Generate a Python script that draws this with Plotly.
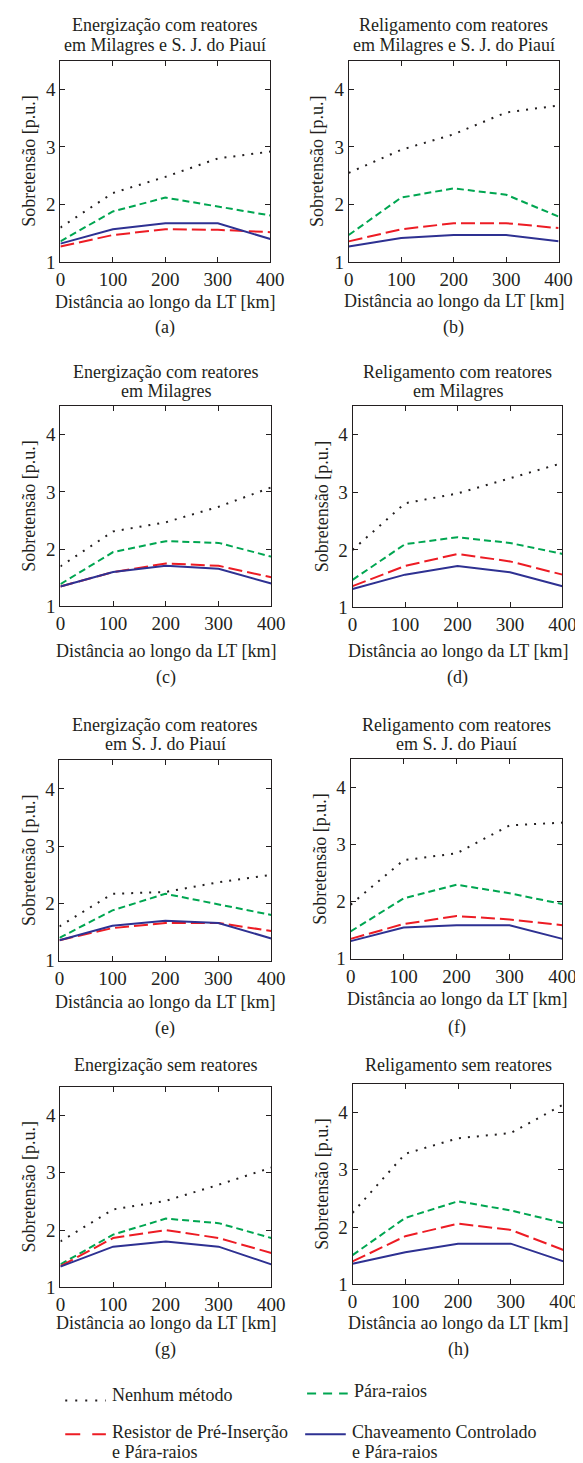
import plotly.graph_objects as go

W, H = 583, 1463

# ---------------- data ----------------
distance_km = [0, 100, 200, 300, 400]

series_names = ["Nenhum método", "Pára-raios",
                "Resistor de Pré-Inserção e Pára-raios",
                "Chaveamento Controlado e Pára-raios"]

panel_titles = [
    ["Energização com reatores", "em Milagres e S. J. do Piauí"],
    ["Religamento com reatores", "em Milagres e S. J. do Piauí"],
    ["Energização com reatores", "em Milagres"],
    ["Religamento com reatores", "em Milagres"],
    ["Energização com reatores", "em S. J. do Piauí"],
    ["Religamento com reatores", "em S. J. do Piauí"],
    ["Energização sem reatores"],
    ["Religamento sem reatores"],
]
panel_labels = ["(a)", "(b)", "(c)", "(d)", "(e)", "(f)", "(g)", "(h)"]

# values per panel: [nenhum, para_raios, resistor, chaveamento]
nenhum = [
    [1.60, 2.20, 2.48, 2.80, 2.92],
    [2.55, 2.95, 3.22, 3.60, 3.72],
    [1.70, 2.31, 2.47, 2.74, 3.08],
    [2.00, 2.81, 2.98, 3.24, 3.51],
    [1.60, 2.17, 2.20, 2.37, 2.50],
    [1.95, 2.73, 2.85, 3.34, 3.39],
    [1.80, 2.36, 2.51, 2.79, 3.09],
    [2.25, 3.28, 3.55, 3.64, 4.14],
]
para_raios = [
    [1.36, 1.88, 2.12, 1.96, 1.81],
    [1.47, 2.12, 2.28, 2.17, 1.79],
    [1.39, 1.95, 2.14, 2.11, 1.87],
    [1.48, 2.10, 2.22, 2.12, 1.93],
    [1.40, 1.88, 2.17, 1.98, 1.80],
    [1.48, 2.06, 2.30, 2.15, 1.96],
    [1.40, 1.92, 2.20, 2.12, 1.86],
    [1.51, 2.16, 2.45, 2.29, 2.07],
]
resistor = [
    [1.27, 1.47, 1.57, 1.56, 1.52],
    [1.36, 1.57, 1.675, 1.675, 1.59],
    [1.35, 1.60, 1.75, 1.71, 1.51],
    [1.37, 1.72, 1.93, 1.80, 1.57],
    [1.36, 1.57, 1.66, 1.66, 1.52],
    [1.35, 1.61, 1.75, 1.69, 1.59],
    [1.37, 1.86, 2.00, 1.86, 1.60],
    [1.40, 1.84, 2.06, 1.95, 1.60],
]
chaveamento = [
    [1.32, 1.57, 1.675, 1.675, 1.40],
    [1.27, 1.42, 1.47, 1.47, 1.36],
    [1.35, 1.60, 1.71, 1.66, 1.40],
    [1.32, 1.57, 1.72, 1.61, 1.37],
    [1.36, 1.61, 1.70, 1.66, 1.39],
    [1.31, 1.55, 1.59, 1.59, 1.35],
    [1.36, 1.71, 1.80, 1.71, 1.40],
    [1.36, 1.56, 1.71, 1.71, 1.40],
]
x_ticks = [0, 100, 200, 300, 400]
y_ticks = [1, 2, 3, 4]
x_title = "Distância ao longo da LT [km]"
y_title = "Sobretensão [p.u.]"

# ---------------- style ----------------
FONT = "Liberation Serif"
TXT = "#231F20"
FS = 18
TFS = 19
styles = [
    dict(color="#231F20", width=2, dash="2px,7px"),
    dict(color="#00A651", width=2, dash="7px,4px"),
    dict(color="#ED1C24", width=2, dash="14px,5px"),
    dict(color="#2E3192", width=2, dash="solid"),
]

# pixel boxes of panels: (left, right, top, bottom)
boxes = [
    (49, 266, 53, 256), (347, 564, 53, 256),
    (49, 267, 401, 603), (351, 568, 401, 604),
    (48, 267, 758, 960), (349, 568, 757, 958),
    (49, 267, 1087, 1289), (351, 569, 1084, 1286),
]
title_y = [(17, 37), (17, 37), (367, 386), (367, 386),
           (722, 742), (722, 742), (1065,), (1065,)]
xtitle_y = [296, 295, 648, 648, 1002, 999, 1325, 1325]
label_y = [322, 322, 675, 675, 1028, 1027, 1352, 1352]


def px(x):
    return x / W


def py(y):
    return 1 - y / H


fig = go.Figure()
annotations = []
shapes = []
layout = {}

for i in range(8):
    l, r, t, b = boxes[i]
    xa = "xaxis" if i == 0 else f"xaxis{i+1}"
    ya = "yaxis" if i == 0 else f"yaxis{i+1}"
    xr = "x" if i == 0 else f"x{i+1}"
    yr = "y" if i == 0 else f"y{i+1}"
    common = dict(showline=True, linecolor=TXT, linewidth=1, mirror="ticks",
                  ticks="inside", ticklen=5, tickcolor=TXT, tickwidth=1,
                  showgrid=False, zeroline=False,
                  tickfont=dict(family=FONT, size=TFS, color=TXT))
    layout[xa] = dict(domain=[px(l), px(r)], range=[0, 400], anchor=yr,
                      tickvals=x_ticks, **common)
    layout[ya] = dict(domain=[py(b), py(t)], range=[1, 4.5], anchor=xr,
                      tickvals=y_ticks, **common)
    vals = [nenhum[i], para_raios[i], resistor[i], chaveamento[i]]
    for k in range(4):
        fig.add_trace(go.Scatter(x=distance_km, y=vals[k], mode="lines",
                                 line=styles[k], name=series_names[k],
                                 showlegend=False, xaxis=xr, yaxis=yr,
                                 cliponaxis=True))
    cx = (l + r) / 2
    for line_txt, yy in zip(panel_titles[i], title_y[i]):
        annotations.append(dict(text=line_txt, x=px(cx), y=py(yy), xref="paper",
                                yref="paper", showarrow=False, xanchor="center",
                                yanchor="middle",
                                font=dict(family=FONT, size=FS, color=TXT)))
    annotations.append(dict(text=x_title, x=px(cx), y=py(xtitle_y[i]), xref="paper",
                            yref="paper", showarrow=False, xanchor="center",
                            yanchor="middle",
                            font=dict(family=FONT, size=FS, color=TXT)))
    annotations.append(dict(text=panel_labels[i], x=px(cx), y=py(label_y[i]),
                            xref="paper", yref="paper", showarrow=False,
                            xanchor="center", yanchor="middle",
                            font=dict(family=FONT, size=FS, color=TXT)))
    annotations.append(dict(text=y_title, x=px(l - 32), y=py((t + b) / 2),
                            xref="paper", yref="paper", showarrow=False,
                            xanchor="center", yanchor="middle", textangle=-90,
                            font=dict(family=FONT, size=FS, color=TXT)))

# ---------------- legend (drawn manually) ----------------
legend_items = [
    # (x0, x1, y_line, text_x, text_lines, text_y)
    (54, 96, 1403, 100, ["Nenhum método"], [1398]),
    (304, 346, 1396, 350, ["Pára-raios"], [1393]),
    (54, 96, 1437, 100, ["Resistor de Pré-Inserção", "e Pára-raios"], [1435, 1455]),
    (302, 344, 1437, 348, ["Chaveamento Controlado", "e Pára-raios"], [1435, 1455]),
]
legend_dash = ["2px,8px", "9px,7px", "15px,12px", "solid"]
for k, (x0, x1, yl, tx, lines, tys) in enumerate(legend_items):
    shapes.append(dict(type="line", xref="paper", yref="paper",
                       x0=px(x0), x1=px(x1), y0=py(yl), y1=py(yl),
                       line=dict(color=styles[k]["color"], width=2,
                                 dash=legend_dash[k])))
    for txt, ty in zip(lines, tys):
        annotations.append(dict(text=txt, x=px(tx), y=py(ty), xref="paper",
                                yref="paper", showarrow=False, xanchor="left",
                                yanchor="middle",
                                font=dict(family=FONT, size=FS, color=TXT)))

fig.update_layout(width=W, height=H, margin=dict(l=0, r=0, t=0, b=0),
                  paper_bgcolor="white", plot_bgcolor="white",
                  annotations=annotations, shapes=shapes, **layout)

fig.write_html("out.html")
